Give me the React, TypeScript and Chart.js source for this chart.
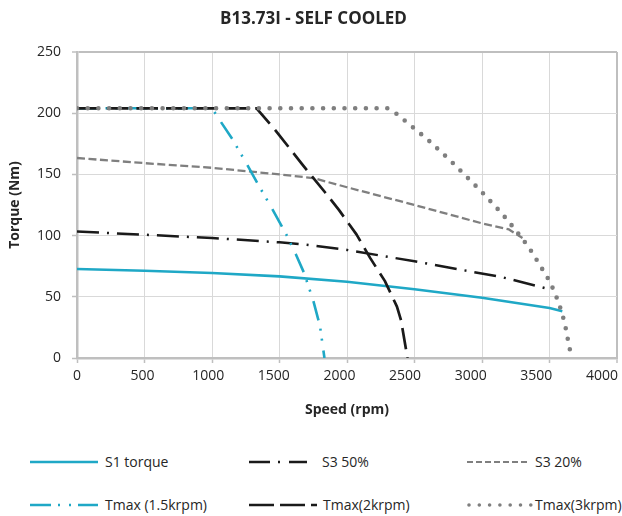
import React, { useEffect, useRef } from "react";
import { Chart, registerables } from "chart.js";

Chart.register(...registerables);

// ---------- data ----------
const TITLE = "B13.73I - SELF COOLED";
const X_TITLE = "Speed (rpm)";
const Y_TITLE = "Torque (Nm)";

const S1_SPEED = [0, 500, 1000, 1500, 2000, 2500, 3000, 3500, 3595];
const S1_TORQUE = [72.7, 71.3, 69.4, 66.7, 62.3, 56.2, 49.2, 40.8, 38.2];

const S3_50_SPEED = [0, 500, 1000, 1500, 1700, 2000, 2500, 2850, 3150, 3420, 3505];
const S3_50_TORQUE = [103.4, 100.7, 98, 94.5, 92.5, 88.3, 79, 72, 66, 58.5, 56];

const S3_20_SPEED = [0, 500, 1000, 1500, 1750, 2000, 2500, 3000, 3200, 3300];
const S3_20_TORQUE = [163.4, 159.2, 155.4, 150, 147, 139.5, 125, 110, 105, 98];

const TMAX15_SPEED = [0, 1000, 1065, 1150, 1260, 1330, 1450, 1550, 1620, 1680, 1750, 1800, 1833];
const TMAX15_TORQUE = [204, 204, 193, 179, 158, 144, 121, 101, 85, 70, 47, 26, 0];

const TMAX2_SPEED = [0, 1330, 1470, 1670, 1840, 1940, 2070, 2170, 2280, 2370, 2400, 2448];
const TMAX2_TORQUE = [204, 204, 186, 158, 135, 121, 101, 82, 63, 42, 31, 0];

const TMAX3_SPEED = [0, 2300, 2345, 2592, 2765, 2987, 3148, 3247, 3346, 3427, 3506, 3568, 3612, 3642, 3662];
const TMAX3_TORQUE = [204, 204, 201.5, 179, 161.4, 137, 118, 104.8, 90.7, 76.2, 61.8, 45.4, 29.1, 11.7, 1];

const SERIES_LABELS = ["S1 torque", "S3 50%", "S3 20%", "Tmax (1.5krpm)", "Tmax(2krpm)", "Tmax(3krpm)"];
const X_TICKS = [0, 500, 1000, 1500, 2000, 2500, 3000, 3500, 4000];
const X_MIN = 0;
const X_MAX = 4000;
const X_STEP = 500;
const Y_MIN = 0;
const Y_MAX = 250;
const Y_STEP = 50;

// ---------- styles ----------
const FONT = "'Open Sans', 'Noto Sans', sans-serif";
const CYAN = "#1fa8c6";
const BLACK = "#1a1a1a";
const GREY = "#7f7f7f";
const TEXT = "#262626";
const GRID = "#d9d9d9";
const FRAME = "#bfbfbf";

const STYLES = [
  { color: CYAN, width: 2.6, dash: [] as number[], cap: "butt" as CanvasLineCap },
  { color: BLACK, width: 2.5, dash: [22, 8, 2, 8], cap: "butt" as CanvasLineCap },
  { color: GREY, width: 2.3, dash: [8, 3.5], cap: "butt" as CanvasLineCap },
  { color: CYAN, width: 2.6, dash: [20, 8.5, 2, 8, 2, 10], cap: "butt" as CanvasLineCap },
  { color: BLACK, width: 2.7, dash: [21.6, 8.1], cap: "butt" as CanvasLineCap },
  { color: GREY, width: 4.6, dash: [0, 10.7], cap: "round" as CanvasLineCap },
];

const LEGEND = [
  { left: 30, top: 462, w: 68, textLeft: 105, dash: "", width: 2.6, cap: "butt" },
  { left: 249, top: 462, w: 58, textLeft: 322, dash: "21 8 2 9", width: 2.5, cap: "butt" },
  { left: 467, top: 462, w: 63, textLeft: 535, dash: "6 3", width: 2, cap: "butt" },
  { left: 30, top: 505, w: 68, textLeft: 105, dash: "21 7 2 9 2 7", width: 2.6, cap: "butt" },
  { left: 249, top: 505, w: 68, textLeft: 323, dash: "25 6", width: 2.7, cap: "butt" },
  { left: 469, top: 505, w: 62, textLeft: 535, dash: "0 10.3", width: 3.6, cap: "round" },
];

const toXY = (xs: number[], ys: number[]) => xs.map((x, i) => ({ x, y: ys[i] }));

export default function App() {
  const ref = useRef<HTMLCanvasElement>(null);

  useEffect(() => {
    const sources = [
      [S1_SPEED, S1_TORQUE],
      [S3_50_SPEED, S3_50_TORQUE],
      [S3_20_SPEED, S3_20_TORQUE],
      [TMAX15_SPEED, TMAX15_TORQUE],
      [TMAX2_SPEED, TMAX2_TORQUE],
      [TMAX3_SPEED, TMAX3_TORQUE],
    ];
    const datasets = sources.map(([xs, ys], i) => ({
      label: SERIES_LABELS[i],
      data: toXY(xs, ys),
      borderColor: STYLES[i].color,
      backgroundColor: STYLES[i].color,
      borderWidth: STYLES[i].width,
      borderDash: STYLES[i].dash,
      borderCapStyle: STYLES[i].cap,
      borderJoinStyle: "round" as CanvasLineJoin,
      pointRadius: 0,
      tension: 0,
      fill: false,
      order: sources.length - i,
    }));

    const tickFont = { family: FONT, size: 14 };
    const titleFont = { family: FONT, size: 14, weight: "bold" as const };

    const chart = new Chart(ref.current!, {
      type: "line",
      data: { datasets },
      options: {
        animation: false,
        responsive: false,
        maintainAspectRatio: false,
        layout: { padding: { left: 10, right: 5, top: 0, bottom: 10 } },
        plugins: {
          legend: { display: false },
          tooltip: { enabled: false },
          title: {
            display: true,
            text: TITLE,
            color: TEXT,
            font: { family: FONT, size: 17, weight: "bold" },
            padding: { top: 9, bottom: 22.6 },
          },
        },
        scales: {
          x: {
            type: "linear",
            axis: "x",
            position: "bottom",
            min: X_MIN,
            max: X_MAX,
            ticks: { display: false, stepSize: X_STEP },
            afterBuildTicks: (s: any) => {
              s.ticks = X_TICKS.map((v) => ({ value: v }));
            },
            grid: {
              color: (c: any) => (c.tick && c.tick.value === X_MAX ? FRAME : GRID),
              lineWidth: (c: any) => (c.tick && c.tick.value === X_MAX ? 2 : 1),
              tickColor: FRAME,
              tickLength: 5,
              tickWidth: 1.5,
            },
            border: { color: FRAME, width: 2.5 },
            afterFit: (s: any) => {
              s.height = 5;
              s.paddingLeft = 0;
              s.paddingRight = 0;
            },
          },
          xLabels: {
            type: "linear",
            axis: "x",
            position: "bottom",
            min: X_MIN,
            max: 4115,
            grid: { display: false, drawTicks: false },
            border: { display: false },
            afterBuildTicks: (s: any) => {
              s.ticks = X_TICKS.map((v) => ({ value: v }));
            },
            ticks: {
              padding: 5,
              color: TEXT,
              font: tickFont,
              maxRotation: 0,
              autoSkip: false,
              callback: (v: any) => String(v),
            },
            title: {
              display: true,
              text: X_TITLE,
              color: TEXT,
              font: titleFont,
              padding: { top: 0, bottom: 2 },
            },
            afterFit: (s: any) => {
              s.height = 57;
              s.paddingLeft = 0;
              s.paddingRight = 0;
            },
          },
          y: {
            type: "linear",
            position: "left",
            min: Y_MIN,
            max: Y_MAX,
            ticks: {
              stepSize: Y_STEP,
              padding: 11,
              color: TEXT,
              font: tickFont,
              callback: (v: any) => String(v),
            },
            grid: {
              color: (c: any) => (c.tick && c.tick.value === Y_MAX ? FRAME : GRID),
              lineWidth: (c: any) => (c.tick && c.tick.value === Y_MAX ? 2 : 1),
              tickColor: FRAME,
              tickLength: 5,
              tickWidth: 1.5,
            },
            border: { color: FRAME, width: 2.5 },
            title: {
              display: true,
              text: Y_TITLE,
              color: TEXT,
              font: titleFont,
              padding: { top: -3, bottom: 0 },
            },
            afterFit: (s: any) => {
              s.width = 67;
            },
          },
        },
      } as any,
    });
    return () => chart.destroy();
  }, []);

  return (
    <div
      style={{
        position: "fixed",
        left: 0,
        top: 0,
        width: 622,
        height: 516,
        overflow: "hidden",
        background: "#fff",
        fontFamily: FONT,
      }}
    >
      <canvas ref={ref} width={622} height={430} style={{ display: "block", width: 622, height: 430 }} />
      {LEGEND.map((l, i) => (
        <React.Fragment key={i}>
          <svg
            width={l.w + 4}
            height={10}
            style={{ position: "absolute", left: l.left - 2, top: l.top - 5 }}
          >
            <line
              x1={2}
              y1={5}
              x2={2 + l.w}
              y2={5}
              stroke={STYLES[i].color}
              strokeWidth={l.width}
              strokeDasharray={l.dash || undefined}
              strokeLinecap={l.cap as any}
            />
          </svg>
          <span
            style={{
              position: "absolute",
              left: l.textLeft,
              top: l.top - 10,
              lineHeight: "20px",
              fontSize: 14,
              color: TEXT,
              whiteSpace: "nowrap",
            }}
          >
            {SERIES_LABELS[i]}
          </span>
        </React.Fragment>
      ))}
    </div>
  );
}
